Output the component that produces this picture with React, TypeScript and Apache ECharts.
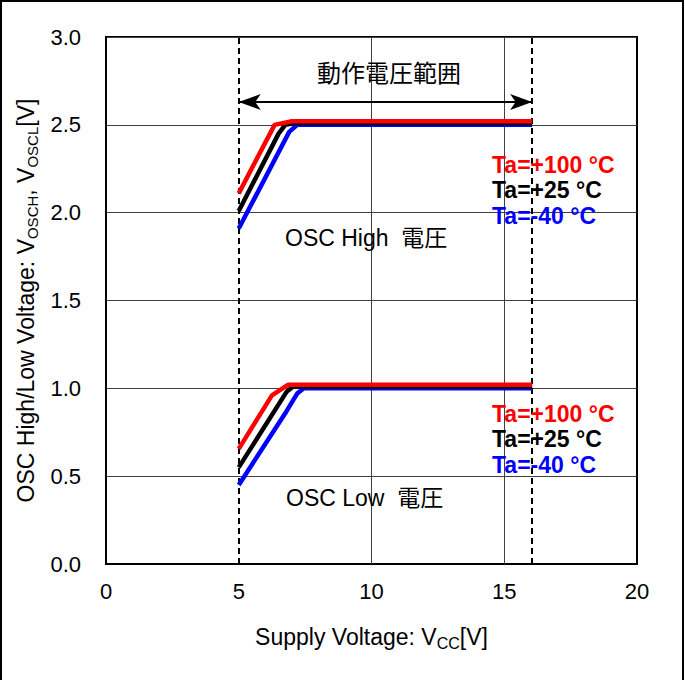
import React, { useEffect, useRef } from "react";
import * as echarts from "echarts";

const xTicks = [0, 5, 10, 15, 20];
const yTicks = [0, 0.5, 1.0, 1.5, 2.0, 2.5, 3.0];

const highRedX = [5, 6.35, 7.0, 16.05];
const highRedY = [2.11, 2.5, 2.52, 2.52];
const highBlackX = [5, 6.5, 6.75, 7.1, 16.05];
const highBlackY = [2.01, 2.45, 2.5, 2.51, 2.51];
const highBlueX = [5, 6.9, 7.2, 16.05];
const highBlueY = [1.91, 2.46, 2.5, 2.5];

const lowRedX = [5, 6.25, 6.85, 16.05];
const lowRedY = [0.655, 0.96, 1.02, 1.02];
const lowBlackX = [5, 6.8, 7.05, 16.05];
const lowBlackY = [0.55, 0.98, 1.01, 1.01];
const lowBlueX = [5, 6.8, 7.2, 7.45, 16.05];
const lowBlueY = [0.45, 0.87, 0.97, 1.0, 1.0];

const rangeMin = 5;
const rangeMax = 16.05;
const gridX = [10, 15];
const arrowY = 2.63;

const tempLabels = ["Ta=+100 °C", "Ta=+25 °C", "Ta=-40 °C"];
const tempColors = ["#ff0000", "#000000", "#0000ff"];

const zip = (xs: number[], ys: number[]) => xs.map((x, i) => [x, ys[i]]);

export default function App() {
  const ref = useRef<HTMLDivElement>(null);
  useEffect(() => {
    if (!ref.current) return;
    const chart = echarts.init(ref.current, null, { renderer: "svg" });
    const font = "Liberation Sans, Arial, sans-serif";
    const lineSeries = (name: string, xs: number[], ys: number[], color: string, z: number) => ({
      name,
      type: "line",
      data: zip(xs, ys),
      showSymbol: false,
      symbol: "none",
      lineStyle: { color, width: 4.5 },
      z,
    });
    const tempText = (y0: number) =>
      tempLabels.map((t, i) => ({
        type: "text",
        left: 492,
        top: y0 + i * 25.5,
        style: {
          text: t,
          fill: tempColors[i],
          font: `bold 23px ${font}`,
        },
        z: 100,
      }));
    chart.setOption({
      animation: false,
      backgroundColor: "#ffffff",
      grid: {
        left: 106,
        top: 37,
        right: 48,
        bottom: 116,
        show: true,
        borderColor: "#000",
        borderWidth: 2,
        backgroundColor: "transparent",
      },
      xAxis: {
        type: "value",
        min: 0,
        max: 20,
        interval: 5,
        axisLine: { show: true, onZero: false, lineStyle: { color: "#000", width: 2 } },
        axisTick: { show: false },
        splitLine: { show: false },
        axisLabel: { color: "#000", fontSize: 22, fontFamily: font, margin: 16 },
        name: "Supply Voltage: V{sub|CC}[V]",
        nameLocation: "middle",
        nameGap: 59,
        nameTextStyle: {
          color: "#000",
          fontSize: 23,
          fontFamily: font,
          rich: { sub: { fontSize: 16, fontFamily: font, color: "#000", padding: [12, 0, 0, 0] } },
        },
      },
      yAxis: {
        type: "value",
        min: 0,
        max: 3,
        interval: 0.5,
        axisLine: { show: true, lineStyle: { color: "#000", width: 2 } },
        axisTick: { show: false },
        splitLine: { show: true, lineStyle: { color: "#404040", width: 1 } },
        axisLabel: {
          color: "#000",
          fontSize: 22,
          fontFamily: font,
          margin: 25,
          formatter: (v: number) => v.toFixed(1),
        },
        name: "OSC High/Low Voltage: V{sub|OSCH}, V{sub|OSCL}[V]",
        nameLocation: "middle",
        nameRotate: 90,
        nameGap: 60,
        nameTextStyle: {
          color: "#000",
          fontSize: 23,
          fontFamily: font,
          rich: { sub: { fontSize: 15, fontFamily: font, color: "#000", padding: [12, 0, 0, 0] } },
        },
      },
      series: [
        {
          type: "line",
          data: [],
          markLine: {
            silent: true,
            symbol: "none",
            label: { show: false },
            lineStyle: { color: "#404040", width: 1, type: "solid" },
            data: gridX.map((x) => ({ xAxis: x })),
          },
          z: 1,
        },
        {
          type: "line",
          data: [],
          markLine: {
            silent: true,
            symbol: "none",
            label: { show: false },
            lineStyle: { color: "#000", width: 2, type: [6, 4] },
            data: [{ xAxis: rangeMin }, { xAxis: rangeMax }],
          },
          z: 2,
        },
        {
          type: "line",
          data: [],
          markLine: {
            silent: true,
            symbol: ["arrow", "arrow"],
            symbolSize: [12, 22],
            symbolOffset: 0,
            label: { show: false },
            lineStyle: { color: "#000", width: 2, type: "solid" },
            data: [[{ coord: [rangeMin, arrowY] }, { coord: [rangeMax, arrowY] }]],
          },
          z: 3,
        },
        lineSeries("highBlue", highBlueX, highBlueY, "#0000ff", 10),
        lineSeries("highBlack", highBlackX, highBlackY, "#000000", 11),
        lineSeries("highRed", highRedX, highRedY, "#ff0000", 12),
        lineSeries("lowBlue", lowBlueX, lowBlueY, "#0000ff", 10),
        lineSeries("lowBlack", lowBlackX, lowBlackY, "#000000", 11),
        lineSeries("lowRed", lowRedX, lowRedY, "#ff0000", 12),
      ],
      graphic: [
        {
          type: "rect",
          shape: { x: 1, y: 1, width: 682, height: 700 },
          style: { fill: "none", stroke: "#000", lineWidth: 2 },
          z: 200,
          silent: true,
        },
        {
          type: "text",
          left: 317,
          top: 59,
          style: { text: "動作電圧範囲", fill: "#000", font: `24px "Noto Sans CJK JP", ${font}` },
          z: 100,
        },
        {
          type: "text",
          left: 285,
          top: 226,
          style: { text: "OSC High  電圧", fill: "#000", font: `23px ${font}, "Noto Sans CJK JP"` },
          z: 100,
        },
        {
          type: "text",
          left: 286,
          top: 486,
          style: { text: "OSC Low  電圧", fill: "#000", font: `23px ${font}, "Noto Sans CJK JP"` },
          z: 100,
        },
        ...tempText(153),
        ...tempText(402),
      ],
    });
    return () => chart.dispose();
  }, []);
  return (
    <div
      ref={ref}
      style={{ position: "fixed", left: 0, top: 0, width: 685, height: 680, background: "#fff" }}
    />
  );
}
